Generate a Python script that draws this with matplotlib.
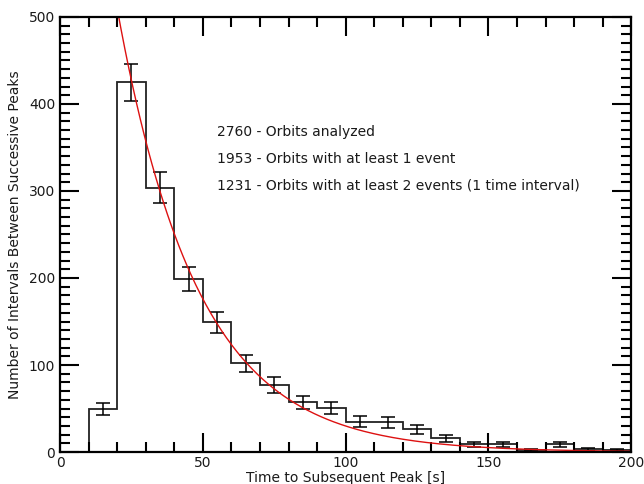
import numpy as np
import matplotlib
matplotlib.use("Agg")
import matplotlib.pyplot as plt
from matplotlib.ticker import MultipleLocator

# Histogram data (bin edges in seconds, counts per bin)
bin_edges = [10, 20, 30, 40, 50, 60, 70, 80, 90, 100, 110, 120, 130, 140, 150, 160, 170, 180, 190, 200]
counts = [49, 425, 304, 199, 149, 102, 77, 57, 51, 35, 34, 26, 16, 9, 9, 2, 9, 3, 2]
errors = [7, 21, 17.5, 14, 12, 10, 9, 7.5, 7, 6, 6, 5, 4, 3, 3, 1.4, 3, 1.7, 1.4]

# Exponential fit parameters
fit_amplitude_at_20 = 510.0
fit_tau = 28.2
fit_start, fit_end = 20, 200

annotations = [
    "2760 - Orbits analyzed",
    "1953 - Orbits with at least 1 event",
    "1231 - Orbits with at least 2 events (1 time interval)",
]
annot_x = 55
annot_y = [368, 337, 306]

fig = plt.figure(figsize=(6.44, 4.84), dpi=100)
ax = fig.add_axes([0.0932, 0.0661, 0.887, 0.8988])

edges = np.array(bin_edges, dtype=float)
centers = (edges[:-1] + edges[1:]) / 2
ax.stairs(counts, edges, color="#222222", lw=1.3, baseline=0, fill=False)
ax.errorbar(centers, counts, yerr=errors, fmt="none", ecolor="black",
            elinewidth=1.1, capsize=4.7, capthick=1.1)

xf = np.linspace(fit_start, fit_end, 400)
yf = fit_amplitude_at_20 * np.exp(-(xf - fit_start) / fit_tau)
ax.plot(xf, yf, color="#dd1111", lw=1.0)

for t, y in zip(annotations, annot_y):
    ax.text(annot_x, y, t, fontsize=10, va="center", ha="left", color="#1a1a1a")

ax.set_xlim(0, 200)
ax.set_ylim(0, 500)
ax.xaxis.set_major_locator(MultipleLocator(50))
ax.xaxis.set_minor_locator(MultipleLocator(10))
ax.yaxis.set_major_locator(MultipleLocator(100))
ax.yaxis.set_minor_locator(MultipleLocator(10))
ax.tick_params(which="both", direction="in", top=True, right=True, width=1.5,
               labelsize=10, color="black", labelcolor="#1a1a1a")
ax.tick_params(which="major", length=14)
ax.tick_params(which="minor", length=7.5)
ax.tick_params(axis="x", which="major", pad=3)
for s in ax.spines.values():
    s.set_linewidth(1.6)

ax.set_xlabel("Time to Subsequent Peak [s]", fontsize=10, color="#1a1a1a")
ax.xaxis.set_label_coords(0.5, -0.043)
ax.set_ylabel("Number of Intervals Between Successive Peaks", fontsize=10,
              labelpad=5, color="#1a1a1a")

fig.savefig("out.png", dpi=100)
